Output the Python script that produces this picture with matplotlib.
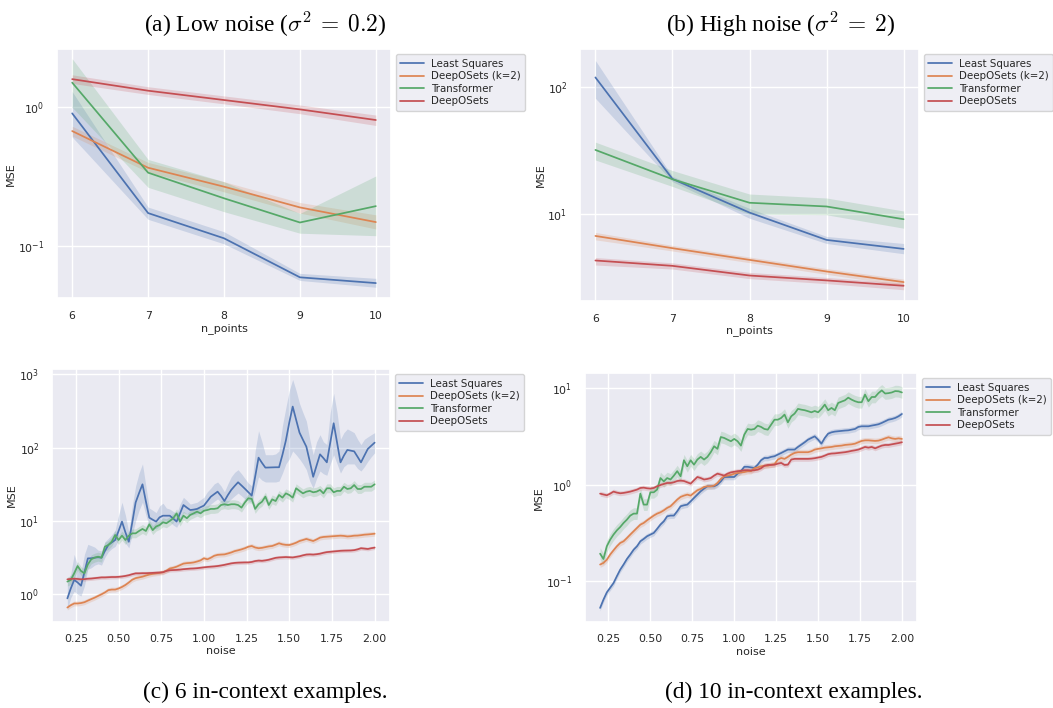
import numpy as np
import matplotlib
matplotlib.use("Agg")
import matplotlib.pyplot as plt
import seaborn as sns

# ---------------- data ----------------
labels = ["Least Squares", "DeepOSets (k=2)", "Transformer", "DeepOSets"]
n_points = [6, 7, 8, 9, 10]
noise = np.linspace(0.2, 2.0, 91)

# (a) low noise
a_ls = [0.905, 0.172, 0.113, 0.059, 0.0536]
a_ls_lo = [0.61, 0.155, 0.103, 0.056, 0.050]
a_ls_hi = [1.30, 0.19, 0.126, 0.063, 0.058]
a_k2 = [0.674, 0.366, 0.267, 0.189, 0.148]
a_k2_lo = [0.62, 0.34, 0.245, 0.172, 0.132]
a_k2_hi = [0.73, 0.40, 0.29, 0.205, 0.167]
a_tf = [1.51, 0.337, 0.22, 0.147, 0.193]
a_tf_lo = [1.0, 0.264, 0.176, 0.123, 0.118]
a_tf_hi = [2.25, 0.42, 0.29, 0.171, 0.319]
a_ds = [1.60, 1.32, 1.13, 0.967, 0.81]
a_ds_lo = [1.49, 1.24, 1.06, 0.90, 0.74]
a_ds_hi = [1.72, 1.41, 1.21, 1.04, 0.88]

# (b) high noise
b_ls = [118, 18.9, 10.3, 6.29, 5.35]
b_ls_lo = [81, 18.0, 9.3, 5.9, 4.9]
b_ls_hi = [160, 19.8, 11.1, 6.7, 5.9]
b_k2 = [6.76, 5.42, 4.39, 3.56, 2.94]
b_k2_lo = [6.3, 5.15, 4.17, 3.38, 2.76]
b_k2_hi = [7.2, 5.7, 4.62, 3.75, 3.10]
b_tf = [31.9, 18.8, 12.3, 11.5, 9.14]
b_tf_lo = [26.6, 16.5, 10.0, 9.9, 7.77]
b_tf_hi = [36.7, 22.0, 14.4, 13.4, 10.6]
b_ds = [4.34, 3.94, 3.31, 3.03, 2.75]
b_ds_lo = [4.0, 3.72, 3.13, 2.86, 2.56]
b_ds_hi = [4.58, 4.16, 3.50, 3.20, 2.88]

# (c) 6 in-context examples
c_ls = [0.88, 1.2, 1.57, 1.45, 1.31, 2.0, 3.09, 3.1, 3.16, 3.2,
        3.16, 3.9, 4.7, 5.1, 5.5, 7.3, 9.8, 7.0, 5.2, 9.5,
        17.9, 24, 31.6, 18.5, 11.1, 10.4, 9.8, 11.2, 11.8, 11.8,
        11.8, 10.8, 9.8, 12.7, 16.5, 15.2, 14.1, 14.3, 14.6, 15.4,
        16.2, 18.6, 21.4, 23.2, 25.1, 22.0, 18.7, 22.5, 26.5, 30.0,
        33.7, 30.5, 27.5, 24.7, 22.2, 40, 73, 62, 53.4, 53.6,
        53.8, 54, 54, 80, 125, 220, 363, 240, 160, 128,
        103, 65, 40, 57, 81, 72, 63, 117, 215, 117,
        63, 78, 93, 91, 89, 75, 63, 78, 96, 106, 117]
c_ls_lo = [0.62, 0.9, 1.1, 1.0, 0.95, 1.3, 2.2, 2.3, 2.5, 2.6,
           2.5, 3.2, 3.8, 4.2, 4.5, 5.5, 6.5, 5.0, 4.3, 6.5,
           10, 14, 18, 12, 8.5, 8.0, 7.8, 8.5, 9.5, 9.8,
           9.8, 8.8, 8.2, 10, 13, 12.5, 12, 12.2, 12.5, 13,
           13.5, 15, 17, 18.5, 20, 18, 15.5, 18, 20, 22,
           24, 22, 20, 19, 18, 26, 40, 36, 34, 34,
           34, 34, 35, 45, 60, 70, 90, 80, 70, 60,
           50, 35, 28, 38, 48, 44, 42, 60, 80, 60,
           45, 55, 60, 60, 60, 52, 48, 55, 65, 75, 85]
c_ls_hi = [1.5, 1.9, 3.5, 2.5, 2.0, 3.5, 4.8, 4.6, 4.4, 4.0,
           3.9, 5.2, 5.8, 6.5, 7.5, 12, 18, 12, 7, 16,
           30, 45, 60, 30, 15, 14, 13, 16, 17.5, 15,
           14.5, 13.5, 12.5, 17, 21, 19, 17, 17.5, 18, 19.5,
           21, 25, 28, 32, 34, 30, 25, 32, 40, 46,
           50, 44, 38, 33, 30, 90, 170, 120, 80, 80,
           80, 82, 90, 200, 350, 600, 850, 600, 400, 300,
           230, 130, 80, 120, 150, 120, 110, 300, 550, 300,
           130, 160, 180, 170, 160, 130, 110, 130, 140, 150, 160]
c_k2 = [0.66, 0.71, 0.75, 0.75, 0.76, 0.78, 0.82, 0.86, 0.90, 0.95,
        1.00, 1.06, 1.14, 1.16, 1.16, 1.20, 1.26, 1.34, 1.45, 1.58,
        1.66, 1.70, 1.74, 1.80, 1.86, 1.90, 1.93, 1.96, 2.00, 2.10,
        2.25, 2.30, 2.38, 2.50, 2.62, 2.66, 2.68, 2.72, 2.80, 2.90,
        3.10, 3.00, 3.15, 3.35, 3.45, 3.48, 3.50, 3.60, 3.72, 3.88,
        3.98, 4.10, 4.25, 4.45, 4.56, 4.35, 4.25, 4.30, 4.40, 4.50,
        4.56, 4.75, 4.96, 4.80, 4.72, 4.70, 4.85, 5.05, 5.33, 5.50,
        5.69, 5.50, 5.33, 5.60, 5.93, 6.05, 6.10, 6.15, 6.20, 6.25,
        6.30, 6.25, 6.15, 6.20, 6.30, 6.32, 6.40, 6.50, 6.55, 6.62, 6.70]
c_tf = [1.49, 1.57, 1.93, 2.43, 2.08, 1.93, 2.56, 3.0, 3.16, 3.26,
        3.16, 4.46, 4.7, 5.23, 6.44, 5.5, 6.3, 5.5, 6.3, 6.78,
        6.78, 7.3, 7.78, 7.3, 9.0, 7.5, 8.4, 8.8, 9.6, 9.3,
        10.0, 10.9, 12.7, 9.8, 11.8, 10.9, 12.1, 12.7, 13.4, 12.7,
        13.8, 14.1, 14.6, 14.6, 14.9, 16.5, 16.9, 16.5, 16.9, 16.9,
        16.5, 15.2, 17.9, 20.4, 20.0, 14.6, 16.9, 18.3, 21.5, 16.5,
        19.7, 18.7, 22.6, 20.8, 23.8, 22.6, 20.8, 27.9, 25.7, 23.8,
        25.1, 25.7, 24.6, 25.1, 26.5, 23.8, 27.9, 27.9, 24.6, 25.7,
        25.7, 29.3, 27.3, 27.9, 30.9, 27.3, 27.3, 29.3, 29.3, 29.3, 31.6]
c_ds = [1.60, 1.62, 1.63, 1.62, 1.60, 1.61, 1.63, 1.64, 1.66, 1.68,
        1.70, 1.70, 1.71, 1.72, 1.72, 1.73, 1.75, 1.78, 1.82, 1.88,
        1.93, 1.93, 1.94, 1.94, 1.95, 1.96, 1.97, 1.98, 2.00, 2.08,
        2.13, 2.14, 2.15, 2.17, 2.20, 2.22, 2.24, 2.25, 2.27, 2.30,
        2.33, 2.36, 2.38, 2.40, 2.43, 2.47, 2.52, 2.58, 2.64, 2.68,
        2.70, 2.71, 2.72, 2.72, 2.76, 2.84, 2.88, 2.86, 2.90, 2.96,
        3.05, 3.14, 3.18, 3.20, 3.22, 3.20, 3.18, 3.24, 3.30, 3.40,
        3.48, 3.50, 3.48, 3.52, 3.58, 3.68, 3.76, 3.80, 3.84, 3.88,
        3.92, 3.94, 3.95, 3.96, 4.00, 4.10, 4.25, 4.20, 4.15, 4.25, 4.33]

# (d) 10 in-context examples
d_ls = [0.0525, 0.064, 0.076, 0.085, 0.095, 0.112, 0.131, 0.148, 0.169, 0.188,
        0.211, 0.229, 0.258, 0.273, 0.291, 0.303, 0.315, 0.347, 0.385, 0.416,
        0.469, 0.477, 0.477, 0.529, 0.596, 0.61, 0.62, 0.67, 0.727, 0.787,
        0.853, 0.909, 0.96, 0.96, 0.96, 1.0, 1.08, 1.20, 1.20, 1.20,
        1.20, 1.30, 1.38, 1.53, 1.53, 1.51, 1.49, 1.61, 1.79, 1.89,
        1.89, 1.94, 1.97, 2.05, 2.13, 2.22, 2.31, 2.31, 2.31, 2.46,
        2.60, 2.75, 2.93, 3.05, 3.17, 2.93, 2.66, 3.05, 3.38, 3.49,
        3.55, 3.58, 3.61, 3.64, 3.66, 3.72, 3.78, 3.97, 4.03, 4.03,
        4.03, 4.10, 4.16, 4.23, 4.37, 4.54, 4.72, 4.80, 4.92, 5.12, 5.41]
d_k2 = [0.148, 0.154, 0.166, 0.188, 0.208, 0.229, 0.248, 0.258, 0.279, 0.303,
        0.328, 0.355, 0.384, 0.40, 0.426, 0.451, 0.477, 0.50, 0.516, 0.541,
        0.573, 0.596, 0.645, 0.699, 0.745, 0.769, 0.787, 0.769, 0.82, 0.873,
        0.902, 0.946, 0.96, 0.96, 0.976, 1.04, 1.145, 1.22, 1.24, 1.26,
        1.30, 1.32, 1.34, 1.35, 1.38, 1.38, 1.48, 1.51, 1.55, 1.57,
        1.57, 1.61, 1.63, 1.82, 1.89, 1.85, 1.94, 2.05, 2.13, 2.17,
        2.17, 2.17, 2.17, 2.22, 2.31, 2.35, 2.38, 2.42, 2.44, 2.46,
        2.50, 2.52, 2.54, 2.58, 2.60, 2.62, 2.66, 2.75, 2.84, 2.88,
        2.88, 2.86, 2.84, 2.86, 2.93, 3.02, 3.10, 3.02, 2.98, 3.02, 2.98]
d_tf = [0.192, 0.169, 0.229, 0.268, 0.303, 0.335, 0.363, 0.40, 0.433, 0.477,
        0.50, 0.50, 0.806, 0.62, 0.62, 0.832, 0.832, 0.887, 1.17, 1.08,
        1.17, 1.13, 1.24, 1.38, 1.22, 1.79, 1.55, 1.79, 1.61, 1.82,
        1.94, 1.82, 1.94, 2.17, 2.50, 2.35, 3.12, 3.05, 2.93, 2.82,
        2.98, 2.82, 2.54, 3.30, 3.78, 3.72, 3.78, 4.09, 3.97, 3.78,
        3.72, 4.19, 4.72, 4.72, 4.92, 5.33, 4.43, 5.12, 5.46, 6.11,
        6.0, 5.92, 5.78, 5.63, 5.81, 5.63, 6.11, 6.77, 5.92, 6.25,
        5.92, 7.04, 7.27, 7.5, 7.99, 7.62, 7.34, 7.16, 7.16, 8.6,
        7.34, 8.12, 8.12, 8.9, 9.5, 8.82, 8.9, 9.05, 9.35, 9.3, 9.05]
d_ds = [0.806, 0.79, 0.775, 0.806, 0.846, 0.826, 0.813, 0.82, 0.832, 0.846,
        0.866, 0.887, 0.923, 0.93, 0.916, 0.909, 0.923, 0.96, 0.99, 1.016,
        1.04, 1.04, 1.057, 1.09, 1.10, 1.09, 1.057, 1.024, 1.11, 1.20,
        1.17, 1.13, 1.145, 1.17, 1.24, 1.30, 1.27, 1.24, 1.30, 1.34,
        1.36, 1.38, 1.39, 1.41, 1.41, 1.40, 1.41, 1.43, 1.48, 1.57,
        1.60, 1.60, 1.61, 1.65, 1.68, 1.60, 1.61, 1.82, 1.85, 1.85,
        1.85, 1.85, 1.85, 1.86, 1.88, 1.91, 1.94, 2.0, 2.07, 2.10,
        2.11, 2.13, 2.15, 2.17, 2.20, 2.24, 2.27, 2.31, 2.38, 2.46,
        2.42, 2.46, 2.38, 2.46, 2.54, 2.58, 2.58, 2.62, 2.66, 2.70, 2.75]

# relative half-width of the confidence band (multiplicative) where not listed
c_band = {"DeepOSets (k=2)": 1.08, "Transformer": 1.15, "DeepOSets": 1.06}
d_band = {"Least Squares": 1.07, "DeepOSets (k=2)": 1.07, "Transformer": 1.15, "DeepOSets": 1.06}

# ---------------- style ----------------
sns.set_theme(style="darkgrid")
plt.rcParams["font.family"] = ["DejaVu Sans"]
plt.rcParams["xtick.labelsize"] = 7.8
plt.rcParams["ytick.labelsize"] = 7.8
plt.rcParams["axes.labelsize"] = 8.0
plt.rcParams["legend.fontsize"] = 7.4

colors = sns.color_palette("deep")[:4]
W, H = 1053, 708
fig = plt.figure(figsize=(W / 100, H / 100), dpi=100)


def add_ax(left, top, right, bottom):
    return fig.add_axes([left / W, 1 - bottom / H, (right - left) / W, (bottom - top) / H])


def draw(ax, x, series, xlabel, xlim, ylim, xticks):
    for lab, col in zip(labels, colors):
        y, lo, hi = series[lab]
        ax.fill_between(x, lo, hi, color=col, alpha=0.2, linewidth=0)
        ax.plot(x, y, color=col, lw=1.25, label=lab)
    ax.set_yscale("log")
    ax.set_xlim(*xlim)
    ax.set_ylim(*ylim)
    ax.set_xticks(xticks)
    ax.set_xlabel(xlabel, labelpad=1.5)
    ax.set_ylabel("MSE", labelpad=1.5)
    ax.tick_params(axis="both", pad=3)
    ax.legend(loc="upper left", bbox_to_anchor=(1.0, 1.0), borderaxespad=0.45,
              handlelength=2.3, labelspacing=0.25, borderpad=0.45, handletextpad=0.7)


def rel(vals, f):
    v = np.asarray(vals)
    return [vals, v / f, v * f]


ax_a = add_ax(57, 49.3, 391, 298.3)
draw(ax_a, n_points,
     {"Least Squares": [a_ls, a_ls_lo, a_ls_hi],
      "DeepOSets (k=2)": [a_k2, a_k2_lo, a_k2_hi],
      "Transformer": [a_tf, a_tf_lo, a_tf_hi],
      "DeepOSets": [a_ds, a_ds_lo, a_ds_hi]},
     "n_points", (5.8, 10.2), (0.0416, 2.63), n_points)

ax_b = add_ax(580, 49.3, 919, 301)
draw(ax_b, n_points,
     {"Least Squares": [b_ls, b_ls_lo, b_ls_hi],
      "DeepOSets (k=2)": [b_k2, b_k2_lo, b_k2_hi],
      "Transformer": [b_tf, b_tf_lo, b_tf_hi],
      "DeepOSets": [b_ds, b_ds_lo, b_ds_hi]},
     "n_points", (5.8, 10.2), (2.09, 196), n_points)

noise_ticks = [0.25, 0.5, 0.75, 1.0, 1.25, 1.5, 1.75, 2.0]
ax_c = add_ax(52, 369.3, 390, 621.7)
draw(ax_c, noise,
     {"Least Squares": [c_ls, c_ls_lo, c_ls_hi],
      "DeepOSets (k=2)": rel(c_k2, c_band["DeepOSets (k=2)"]),
      "Transformer": rel(c_tf, c_band["Transformer"]),
      "DeepOSets": rel(c_ds, c_band["DeepOSets"])},
     "noise", (0.11, 2.09), (0.423, 1170), noise_ticks)

ax_d = add_ax(585, 373.3, 917, 622)
draw(ax_d, noise,
     {"Least Squares": rel(d_ls, d_band["Least Squares"]),
      "DeepOSets (k=2)": rel(d_k2, d_band["DeepOSets (k=2)"]),
      "Transformer": rel(d_tf, d_band["Transformer"]),
      "DeepOSets": rel(d_ds, d_band["DeepOSets"])},
     "noise", (0.11, 2.09), (0.0375, 14.3), noise_ticks)

for ax in (ax_c, ax_d):
    ax.set_xticklabels(["0.25", "0.50", "0.75", "1.00", "1.25", "1.50", "1.75", "2.00"])

cap_kw = dict(ha="center", va="baseline", fontsize=16.8, family="Liberation Serif",
              math_fontfamily="cm", color="black")
fig.text(265 / W, 1 - 32 / H, r"(a) Low noise ($\sigma^2\:=\:0.2$)", **cap_kw)
fig.text(781 / W, 1 - 32 / H, r"(b) High noise ($\sigma^2\:=\:2$)", **cap_kw)
fig.text(265 / W, 1 - 698 / H, "(c) 6 in-context examples.", **cap_kw)
fig.text(794 / W, 1 - 698 / H, "(d) 10 in-context examples.", **cap_kw)

fig.savefig("out.png", dpi=100)
